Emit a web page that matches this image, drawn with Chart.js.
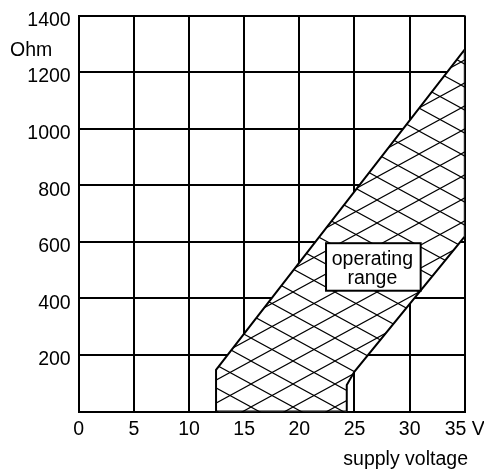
<!DOCTYPE html>
<html>
<head>
<meta charset="utf-8">
<script src="https://cdn.jsdelivr.net/npm/chart.js@4/dist/chart.umd.min.js"></script>
<style>
  html, body { margin: 0; padding: 0; background: #fff; }
  #wrap { width: 484px; height: 470px; }
</style>
</head>
<body>
<div id="wrap"><canvas id="c" width="484" height="470"></canvas></div>
<script>
// ---- data ----
const xTickValues = [0, 5, 10, 15, 20, 25, 30, 35];
const xTickLabels = ['0', '5', '10', '15', '20', '25', '30', '35 V'];
const yTickValues = [200, 400, 600, 800, 1000, 1200, 1400];
const yTickLabels = ['200', '400', '600', '800', '1000', '1200', '1400'];
// operating range outline (supply voltage V, load resistance Ohm)
const rangeVolts = [12.45, 12.45, 35, 35, 25, 24.3, 24.3, 12.45];
const rangeOhms  = [0, 147, 1280, 619, 141, 94, 0, 0];
const yUnit = 'Ohm';
const xTitle = 'supply voltage';
const boxLines = ['operating', 'range'];
const boxVolts = [22.42, 31.0];
const boxOhms = [595, 427];

const FONT = 'Liberation Sans, Arial, sans-serif';

function makeHatch() {
  const w = 42, h = 23;
  const c = document.createElement('canvas');
  c.width = w; c.height = h;
  const g = c.getContext('2d');
  g.fillStyle = '#fff';
  g.fillRect(0, 0, w, h);
  g.strokeStyle = '#000';
  g.lineWidth = 1.1;
  g.beginPath();
  for (const dx of [-w, 0, w]) {
    g.moveTo(dx, 0); g.lineTo(dx + w, h);
    g.moveTo(dx, h); g.lineTo(dx + w, 0);
  }
  g.stroke();
  const ctx = document.getElementById('c').getContext('2d');
  const p = ctx.createPattern(c, 'repeat');
  if (p.setTransform) p.setTransform(new DOMMatrix().translate(-1, 16));
  return p;
}

function zeroPad(s) {
  s.paddingTop = 0; s.paddingBottom = 0; s.paddingLeft = 0; s.paddingRight = 0;
}

const textPlugin = {
  id: 'texts',
  afterDraw(chart) {
    const ctx = chart.ctx;
    const xs = chart.scales.x, ys = chart.scales.y;
    ctx.save();
    ctx.font = '19.5px ' + FONT;
    ctx.fillStyle = '#000';
    // unit label
    ctx.textAlign = 'left';
    ctx.textBaseline = 'alphabetic';
    ctx.fillText(yUnit, 10, 56);
    // axis title
    ctx.textAlign = 'right';
    ctx.fillText(xTitle, 468, 464.5);
    // annotation box
    const l = xs.getPixelForValue(boxVolts[0]);
    const r = xs.getPixelForValue(boxVolts[1]);
    const t = ys.getPixelForValue(boxOhms[0]);
    const b = ys.getPixelForValue(boxOhms[1]);
    ctx.fillStyle = '#fff';
    ctx.fillRect(l, t, r - l, b - t);
    ctx.lineWidth = 2;
    ctx.strokeStyle = '#000';
    ctx.strokeRect(l, t, r - l, b - t);
    ctx.fillStyle = '#000';
    ctx.textAlign = 'center';
    const cx = (l + r) / 2 - 1;
    ctx.fillText(boxLines[0], cx, t + 22);
    ctx.fillText(boxLines[1], cx, t + 41);
    ctx.restore();
  }
};

const chart = new Chart(document.getElementById('c'), {
  type: 'scatter',
  data: {
    datasets: [{
      data: rangeVolts.map((v, i) => ({ x: v, y: rangeOhms[i] })),
      showLine: true,
      fill: 'shape',
      backgroundColor: makeHatch(),
      borderColor: '#000',
      borderWidth: 2,
      pointRadius: 0,
      tension: 0
    }]
  },
  options: {
    responsive: false,
    animation: false,
    devicePixelRatio: 1,
    layout: { padding: { top: 15.5, right: 19.2, left: 0, bottom: 0 } },
    plugins: { legend: { display: false }, tooltip: { enabled: false } },
    scales: {
      x: {
        type: 'linear', min: 0, max: 35,
        afterBuildTicks: s => { s.ticks = xTickValues.map(v => ({ value: v })); },
        afterFit: s => { s.height = 58.5; zeroPad(s); },
        ticks: {
          callback: (v) => { const i = xTickValues.indexOf(v); return i >= 0 ? xTickLabels[i] : ''; },
          color: '#000', font: { family: FONT, size: 19.5 }, padding: 6, maxRotation: 0, autoSkip: false
        },
        grid: { color: '#000', lineWidth: 2, drawTicks: false },
        border: { color: '#000', width: 2 }
      },
      y: {
        type: 'linear', min: 0, max: 1400,
        afterBuildTicks: s => { s.ticks = [0].concat(yTickValues).map(v => ({ value: v })); },
        afterFit: s => { s.width = 78.7; zeroPad(s); },
        ticks: {
          callback: (v) => { const i = yTickValues.indexOf(v); return i >= 0 ? yTickLabels[i] : ''; },
          color: '#000', font: { family: FONT, size: 19.5 }, padding: 8, labelOffset: 5, autoSkip: false
        },
        grid: { color: '#000', lineWidth: 2, drawTicks: false },
        border: { color: '#000', width: 2 }
      }
    }
  },
  plugins: [textPlugin]
});
</script>
</body>
</html>
